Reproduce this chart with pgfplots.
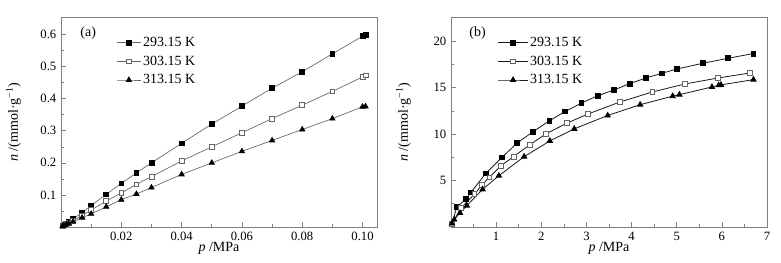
\documentclass[border=0pt]{standalone}
\usepackage{pgfplots}
\pgfplotsset{compat=1.18}
\usepackage{fontspec}
\setmainfont{Liberation Serif}

\definecolor{frame}{gray}{0.5}
\definecolor{lna}{gray}{0.4}
\definecolor{lnb}{gray}{0.1}

\pgfplotsset{
  iso/.style={
    scale only axis, width=237pt, height=157.5pt,
    axis line style={frame, line width=0.5pt},
    tick style={frame, line width=0.5pt},
    tick align=inside, tick pos=left,
    major tick length=3.5pt, minor tick length=2pt,
    /pgf/number format/assume math mode=true,
    tick label style={font=\fontsize{9.5}{10}\selectfont},
    label style={font=\fontsize{10.5}{12}\selectfont},
    xlabel={\textit{p} /MPa},
    ylabel={\textit{n} /(mmol·g\textsuperscript{−1})},
    xlabel style={at={(axis description cs:0.5,-0.1)}, anchor=center},
    ylabel style={at={(axis description cs:-0.15,0.5)}, anchor=center},
    legend cell align=left,
    legend style={draw=none, fill=none, font=\fontsize{10.5}{12}\selectfont,
      inner sep=0pt, row sep=2.5pt,
      nodes={inner sep=1.5pt},
      /tikz/every even column/.append style={column sep=3pt}},
  },
  lega/.style={legend image code/.code={
      \draw[mark repeat=2, mark phase=2, ##1]
        plot coordinates {(0pt,0pt) (9pt,0pt) (18pt,0pt)};}},
  legb/.style={legend image code/.code={
      \draw[mark repeat=2, mark phase=2, ##1]
        plot coordinates {(0pt,0pt) (11pt,0pt) (22pt,0pt)};}},
  ma/.style={mark=square*, mark size=1.8pt, mark options={solid, fill=black, draw=black}},
  mb/.style={mark=square*, mark size=1.8pt, mark options={solid, fill=white, draw=black!60}},
  mc/.style={mark=triangle*, mark size=2.3pt, mark options={solid, fill=black, draw=black}},
}

\begin{document}
\begin{tikzpicture}
\path[use as bounding box] (-45.75pt,-27pt) rectangle (540pt,170.25pt);

\begin{axis}[iso, lega, at={(0pt,0pt)}, anchor=south west,
  xmin=0, xmax=0.1048, ymin=0, ymax=0.655,
  xtick={0.02,0.04,0.06,0.08,0.10},
  xticklabels={0.02,0.04,0.06,0.08,0.10},
  minor xtick={0.01,0.03,0.05,0.07,0.09},
  ytick={0.1,0.2,0.3,0.4,0.5,0.6},
  yticklabels={0.1,0.2,0.3,0.4,0.5,0.6},
  minor ytick={0.05,0.15,0.25,0.35,0.45,0.55},
  legend style={at={(axis description cs:0.175,0.915)}, anchor=north west},
]
\addplot[lna, line width=0.5pt, ma] coordinates {
 (0.0005,0.004) (0.001,0.007) (0.0017,0.011) (0.0025,0.016) (0.004,0.025)
 (0.007,0.045) (0.01,0.067) (0.015,0.102) (0.02,0.136) (0.025,0.169)
 (0.03,0.200) (0.04,0.261) (0.05,0.321) (0.06,0.377) (0.07,0.433)
 (0.08,0.484) (0.09,0.540) (0.10,0.595) (0.101,0.600)
};
\addlegendentry{293.15 K}
\addplot[lna, line width=0.5pt, mb] coordinates {
 (0.0005,0.003) (0.001,0.006) (0.0017,0.009) (0.0025,0.013) (0.004,0.020)
 (0.007,0.036) (0.01,0.053) (0.015,0.081) (0.02,0.106) (0.025,0.133)
 (0.03,0.157) (0.04,0.206) (0.05,0.250) (0.06,0.294) (0.07,0.338)
 (0.08,0.380) (0.09,0.423) (0.10,0.468) (0.101,0.473)
};
\addlegendentry{303.15 K}
\addplot[lna, line width=0.5pt, mc] coordinates {
 (0.0005,0.003) (0.001,0.005) (0.0017,0.008) (0.0025,0.011) (0.004,0.017)
 (0.007,0.029) (0.01,0.041) (0.015,0.063) (0.02,0.085) (0.025,0.103)
 (0.03,0.123) (0.04,0.164) (0.05,0.200) (0.06,0.236) (0.07,0.270)
 (0.08,0.304) (0.09,0.338) (0.10,0.375) (0.101,0.376)
};
\addlegendentry{313.15 K}
\node[font=\fontsize{10.5}{12}\selectfont] at (rel axis cs:0.086,0.922) {(a)};
\end{axis}

\begin{axis}[iso, legb, at={(292.5pt,0pt)}, anchor=south west,
  xmin=0, xmax=7, ymin=0, ymax=22.6,
  xtick={1,2,3,4,5,6,7},
  minor xtick={0.5,1.5,2.5,3.5,4.5,5.5,6.5},
  ytick={5,10,15,20},
  minor ytick={2.5,7.5,12.5,17.5},
  legend style={at={(axis description cs:0.148,0.915)}, anchor=north west},
]
\addplot[lnb, line width=0.6pt, ma] coordinates {
 (0.02,0.35) (0.13,2.16) (0.33,2.99) (0.44,3.72) (0.77,5.77) (1.13,7.50)
 (1.46,9.01) (1.82,10.27) (2.18,11.43) (2.53,12.43) (2.89,13.34) (3.25,14.13)
 (3.61,14.75) (3.96,15.43) (4.32,16.04) (4.67,16.54) (5.01,17.01) (5.58,17.62)
 (6.14,18.16) (6.70,18.67)
};
\addlegendentry{293.15 K}
\addplot[lnb, line width=0.6pt, mb] coordinates {
 (0.02,0.30) (0.22,2.05) (0.52,3.53) (0.68,4.50) (0.85,5.34) (1.10,6.56)
 (1.385,7.57) (1.74,8.83) (2.10,10.02) (2.57,11.18) (3.03,12.15) (3.74,13.45)
 (4.46,14.53) (5.18,15.39) (5.92,16.04) (6.63,16.58)
};
\addlegendentry{303.15 K}
\addplot[lnb, line width=0.6pt, mc] coordinates {
 (0.02,0.37) (0.07,0.80) (0.20,1.50) (0.35,2.30) (0.70,4.05) (1.06,5.52)
 (1.62,7.57) (2.19,9.26) (2.73,10.56) (3.47,12.00) (4.19,13.16) (4.91,14.08)
 (5.06,14.24) (5.78,15.07) (5.93,15.25) (5.98,15.29) (6.70,15.86)
};
\addlegendentry{313.15 K}
\node[font=\fontsize{10.5}{12}\selectfont] at (rel axis cs:0.084,0.922) {(b)};
\end{axis}
\end{tikzpicture}
\end{document}
